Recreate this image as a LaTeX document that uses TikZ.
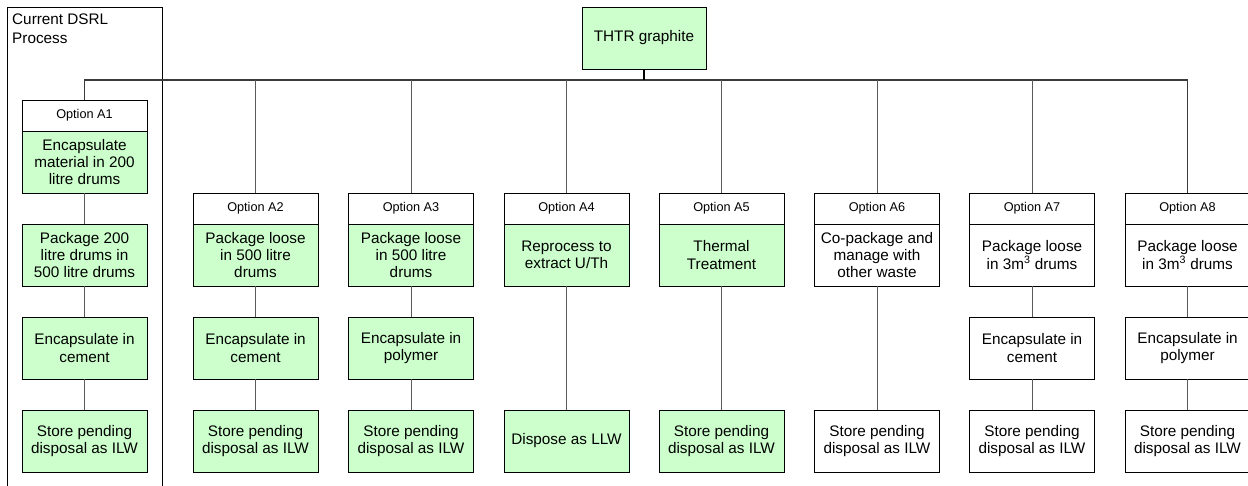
\documentclass[tikz,border=0pt]{standalone}
\usepackage{fontspec}
\setmainfont{Liberation Sans}
\begin{document}
\begin{tikzpicture}[x=1pt,y=-1pt,
  txt/.style={font=\fontsize{15.3}{17.4}\selectfont},
  box/.style={draw=black, line width=0.9pt, minimum width=125pt, minimum height=62pt,
    inner sep=1pt, align=center, txt},
  gbox/.style={box, fill=boxgreen},
  wbox/.style={box, fill=white},
  hdr/.style={draw=black, line width=0.9pt, fill=white, minimum width=125pt, minimum height=31pt,
    inner sep=1pt, font=\fontsize{12.7}{14}\selectfont},
  conn/.style={draw=linegray, line width=1pt},
  bus/.style={draw=busgray, line width=1.4pt}]
\definecolor{boxgreen}{HTML}{CCFFCC}
\definecolor{linegray}{HTML}{5A5A5A}
\definecolor{busgray}{HTML}{3A3A3A}
\useasboundingbox[fill=white] (0,0) rectangle (1248,486);

% frame around the current process
\draw[line width=0.9pt] (7,490) -- (7,7) -- (162,7) -- (162,490);
\node[anchor=north west, align=left, font=\fontsize{15.3}{19}\selectfont, inner sep=0pt] (dsrl) at (12,14) {Current DSRL\\Process};

% root
\node[gbox, minimum width=124pt] (root) at (644,38) {THTR graphite};
\coordinate (bus) at (644,80);

% Option A1
\node[hdr] (a1h) at (84.5,115.5) {Option A1};
\node[gbox] (a1b) at (84.5,162) {Encapsulate\\material in 200\\litre drums};
\node[gbox] (a1c) at (84.5,255) {Package 200\\litre drums in\\500 litre drums};
\node[gbox] (a1d) at (84.5,348) {Encapsulate in\\cement};
\node[gbox] (a1e) at (84.5,441) {Store pending\\disposal as ILW};

% Option A2
\node[hdr] (a2h) at (255.5,208.5) {Option A2};
\node[gbox] (a2b) at (255.5,255) {Package loose\\in 500 litre\\drums};
\node[gbox] (a2c) at (255.5,348) {Encapsulate in\\cement};
\node[gbox] (a2d) at (255.5,441) {Store pending\\disposal as ILW};

% Option A3
\node[hdr] (a3h) at (411,208.5) {Option A3};
\node[gbox] (a3b) at (411,255) {Package loose\\in 500 litre\\drums};
\node[gbox] (a3c) at (411,348) {Encapsulate in\\polymer};
\node[gbox] (a3d) at (411,441) {Store pending\\disposal as ILW};

% Option A4
\node[hdr] (a4h) at (566.5,208.5) {Option A4};
\node[gbox] (a4b) at (566.5,255) {Reprocess to\\extract U/Th};
\node[gbox] (a4d) at (566.5,441) {Dispose as LLW};

% Option A5
\node[hdr] (a5h) at (721.5,208.5) {Option A5};
\node[gbox] (a5b) at (721.5,255) {Thermal\\Treatment};
\node[gbox] (a5d) at (721.5,441) {Store pending\\disposal as ILW};

% Option A6
\node[hdr] (a6h) at (877,208.5) {Option A6};
\node[wbox] (a6b) at (877,255) {Co-package and\\manage with\\other waste};
\node[wbox] (a6d) at (877,441) {Store pending\\disposal as ILW};

% Option A7
\node[hdr] (a7h) at (1032,208.5) {Option A7};
\node[wbox] (a7b) at (1032,255) {Package loose\\in 3m\textsuperscript{3} drums};
\node[wbox] (a7c) at (1032,348) {Encapsulate in\\cement};
\node[wbox] (a7d) at (1032,441) {Store pending\\disposal as ILW};

% Option A8
\node[hdr] (a8h) at (1187.5,208.5) {Option A8};
\node[wbox] (a8b) at (1187.5,255) {Package loose\\in 3m\textsuperscript{3} drums};
\node[wbox] (a8c) at (1187.5,348) {Encapsulate in\\polymer};
\node[wbox] (a8d) at (1187.5,441) {Store pending\\disposal as ILW};

% distribution bus
\draw[bus] (a1h.north) -- (a1h.north |- bus) -- (a8h.north |- bus) -- (a8h.north);
\draw[line width=2.4pt] (root.south) -- (bus);
\foreach \h in {a2h,a3h,a4h,a5h,a6h,a7h}
  \draw[conn] (\h.north |- bus) -- (\h.north);

% column connectors
\draw[conn] (a1b) -- (a1c);
\draw[conn] (a1c) -- (a1d);
\draw[conn] (a1d) -- (a1e);
\draw[conn] (a2b) -- (a2c);
\draw[conn] (a2c) -- (a2d);
\draw[conn] (a3b) -- (a3c);
\draw[conn] (a3c) -- (a3d);
\draw[conn] (a4b) -- (a4d);
\draw[conn] (a5b) -- (a5d);
\draw[conn] (a6b) -- (a6d);
\draw[conn] (a7b) -- (a7c);
\draw[conn] (a7c) -- (a7d);
\draw[conn] (a8b) -- (a8c);
\draw[conn] (a8c) -- (a8d);
\end{tikzpicture}
\end{document}
